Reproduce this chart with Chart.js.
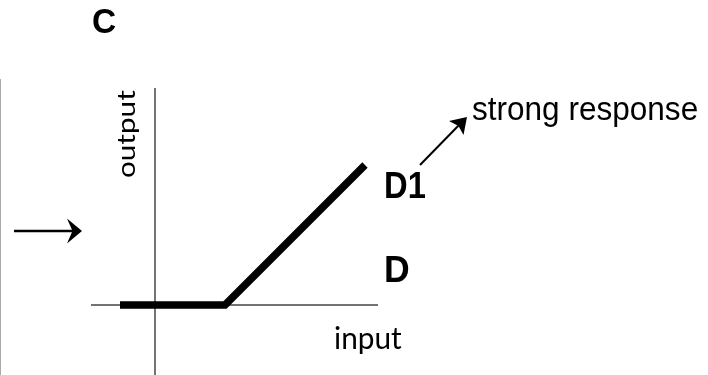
<!DOCTYPE html>
<html>
<head>
<meta charset="utf-8">
<script src="https://cdn.jsdelivr.net/npm/chart.js@4.4.1/dist/chart.umd.min.js"></script>
<style>
  html, body { margin: 0; padding: 0; background: #ffffff; }
  #wrap { width: 708px; height: 375px; position: relative; }
</style>
</head>
<body>
<div id="wrap"><canvas id="c" width="708" height="375"></canvas></div>
<script>
// ---- data (input / output units) ----
const responseInput  = [-1, 2, 6];     // threshold-linear response curve
const responseOutput = [0, 0, 4];
const inputAxisRange  = [-1.83, 6.37]; // horizontal axis extent (output = 0)
const outputAxisRange = [-2, 6.2];     // vertical axis extent (input = 0)
const panelLabel = 'C';
const xLabel = 'input';
const yLabel = 'output';
const levelLabels = ['D1', 'D'];
const noteLabel = 'strong response';

const curve = responseInput.map((x, i) => ({ x, y: responseOutput[i] }));
const hAxis = inputAxisRange.map(x => ({ x, y: 0 }));
const vAxis = outputAxisRange.map(y => ({ x: 0, y }));

// ink-box fitted text
function fitText(ctx, text, font, left, top, right, bottom) {
  ctx.save();
  ctx.font = font;
  ctx.textAlign = 'left';
  ctx.textBaseline = 'alphabetic';
  const m = ctx.measureText(text);
  const w = m.actualBoundingBoxLeft + m.actualBoundingBoxRight;
  const h = m.actualBoundingBoxAscent + m.actualBoundingBoxDescent;
  const sx = (right - left) / w, sy = (bottom - top) / h;
  ctx.translate(left, top);
  ctx.scale(sx, sy);
  ctx.fillStyle = '#000';
  ctx.fillText(text, m.actualBoundingBoxLeft, m.actualBoundingBoxAscent);
  ctx.restore();
}
function fitTextUp(ctx, text, font, left, top, right, bottom) {
  // rotated -90deg: reads bottom to top; glyph tops face left
  ctx.save();
  ctx.font = font;
  ctx.textAlign = 'left';
  ctx.textBaseline = 'alphabetic';
  const m = ctx.measureText(text);
  const w = m.actualBoundingBoxLeft + m.actualBoundingBoxRight;
  const h = m.actualBoundingBoxAscent + m.actualBoundingBoxDescent;
  const len = bottom - top, thick = right - left;
  ctx.translate(left, bottom);
  ctx.rotate(-Math.PI / 2);
  ctx.scale(len / w, thick / h);
  ctx.fillStyle = '#000';
  ctx.fillText(text, m.actualBoundingBoxLeft, m.actualBoundingBoxAscent);
  ctx.restore();
}

const decor = {
  id: 'decor',
  afterDatasetsDraw(chart) {
    const ctx = chart.ctx;
    const xs = chart.scales.x, ys = chart.scales.y;
    const px = v => xs.getPixelForValue(v), py = v => ys.getPixelForValue(v);

    // faint left border
    ctx.save();
    ctx.strokeStyle = '#aaaaaa';
    ctx.lineWidth = 1;
    ctx.beginPath(); ctx.moveTo(0.5, 79); ctx.lineTo(0.5, 375); ctx.stroke();

    // left arrow
    ctx.strokeStyle = '#000'; ctx.fillStyle = '#000';
    ctx.lineWidth = 2.5;
    ctx.beginPath(); ctx.moveTo(14, 231); ctx.lineTo(74, 231); ctx.stroke();
    ctx.beginPath();
    ctx.moveTo(82, 231); ctx.lineTo(67, 218.5); ctx.lineTo(72.5, 231); ctx.lineTo(67, 243.5);
    ctx.closePath(); ctx.fill();

    // strong response arrow
    ctx.lineWidth = 2;
    ctx.beginPath(); ctx.moveTo(420, 165); ctx.lineTo(461, 123); ctx.stroke();
    ctx.beginPath();
    ctx.moveTo(467, 117); ctx.lineTo(449, 121); ctx.lineTo(458.5, 126); ctx.lineTo(463.5, 135);
    ctx.closePath(); ctx.fill();
    ctx.restore();

    // texts
    fitText(ctx, panelLabel, 'bold 32px "Liberation Sans", Arial, sans-serif', 93, 9, 116, 33);
    fitTextUp(ctx, yLabel, '30px Lato, "Open Sans", sans-serif', 118, 90, 139, 177);
    fitText(ctx, xLabel, '30px Lato, "Open Sans", sans-serif', 335, 325, 402, 354);
    fitText(ctx, levelLabels[0], 'bold 34px "Liberation Sans", Arial, sans-serif', 386, 173, 425, 198);
    fitText(ctx, levelLabels[1], 'bold 34px "Liberation Sans", Arial, sans-serif', 386, 257, 409, 282);
    fitText(ctx, noteLabel, '27px "Liberation Sans", Arial, sans-serif', 472, 98, 697, 127);
  }
};

new Chart(document.getElementById('c'), {
  type: 'line',
  data: {
    datasets: [
      { data: curve, borderColor: '#000', borderWidth: 7.5, pointRadius: 0,
        borderCapStyle: 'butt', borderJoinStyle: 'miter', tension: 0, fill: false },
      { data: hAxis, borderColor: '#444', borderWidth: 1.5, pointRadius: 0, fill: false },
      { data: vAxis, borderColor: '#444', borderWidth: 1.5, pointRadius: 0, fill: false }
    ]
  },
  options: {
    responsive: false,
    animation: false,
    devicePixelRatio: 1,
    layout: { padding: 0 },
    plugins: { legend: { display: false }, tooltip: { enabled: false }, title: { display: false } },
    scales: {
      x: { type: 'linear', display: false, min: -155 / 35, max: 553 / 35 },
      y: { type: 'linear', display: false, min: -70 / 35, max: 305 / 35 }
    }
  },
  plugins: [decor]
});
</script>
</body>
</html>
